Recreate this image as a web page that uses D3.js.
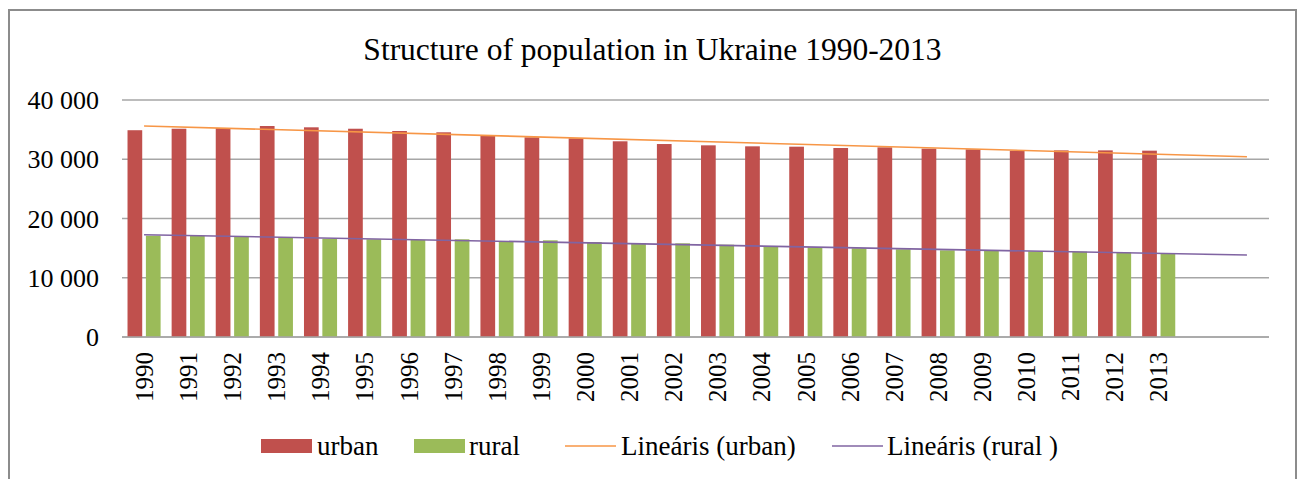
<!DOCTYPE html>
<html><head><meta charset="utf-8">
<script src="https://cdn.jsdelivr.net/npm/d3@7"></script>
<style>
body{margin:0;background:#fff;}
text{font-family:"Times New Roman","Liberation Serif",serif;fill:#000;}
</style></head>
<body><svg id="c" width="1303" height="479"></svg>
<script>
const years = ["1990","1991","1992","1993","1994","1995","1996","1997","1998","1999","2000","2001","2002","2003","2004","2005","2006","2007","2008","2009","2010","2011","2012","2013"];
const urban = [34900,35150,35270,35610,35390,35150,34770,34550,34040,33700,33530,33030,32570,32350,32180,32120,31900,32010,31790,31670,31450,31500,31500,31450];
const rural = [17100,17100,16930,16880,16590,16490,16370,16490,16200,16320,16030,15810,15810,15580,15360,15140,14970,14800,14630,14580,14460,14410,14300,14070];
const yTicks = [0,10000,20000,30000,40000];
const forecastPeriods = 2;
const seriesNames = ["urban","rural"];
const legendLabels = ["urban","rural","Lineáris (urban)","Lineáris (rural )"];
const colors = {urban:"#c0504d", rural:"#9bbb59", trendU:"#f79646", trendR:"#8064a2"};

const svg = d3.select("#c");
const L=122, R=1269, T=100, B=337;

svg.append("rect").attr("x",9).attr("y",10).attr("width",1287).attr("height",480)
  .attr("fill","#fff").attr("stroke","#8c8c8c").attr("stroke-width",2);

svg.append("text").attr("x",652.5).attr("y",60).attr("text-anchor","middle")
  .style("font-size","31.5px").text("Structure of population in Ukraine  1990-2013");

const cats = years.concat(d3.range(forecastPeriods).map(i=>"f"+i));
const x0 = d3.scaleBand().domain(cats).range([L,R]).paddingInner(0.25).paddingOuter(0.125);
const x1 = d3.scaleBand().domain(seriesNames).range([0,x0.bandwidth()]).paddingInner(0.2);
const y = d3.scaleLinear().domain([0,40000]).range([B,T]);

// gridlines
svg.append("g").selectAll("line").data(yTicks).join("line")
  .attr("x1",L).attr("x2",R).attr("y1",d=>y(d)).attr("y2",d=>y(d))
  .attr("stroke","#a6a6a6").attr("stroke-width",1.5);

// y labels
const fmt = d => d3.format(",")(d).replace(/,/g," ");
svg.append("g").selectAll("text").data(yTicks).join("text")
  .attr("x",L-23).attr("y",d=>y(d)).attr("dy","0.35em").attr("text-anchor","end")
  .style("font-size","26px").text(fmt);

// bars
const rows = years.map((yr,i)=>({yr, urban:urban[i], rural:rural[i]}));
const g = svg.append("g");
rows.forEach(r=>{
  seriesNames.forEach(s=>{
    g.append("rect").attr("x",x0(r.yr)+x1(s)).attr("width",x1.bandwidth())
     .attr("y",y(r[s])).attr("height",y(0)-y(r[s])).attr("fill",colors[s]);
  });
});

// trendlines (least squares, extended forward)
function trend(vals){
  const n=vals.length, xs=d3.range(n);
  const mx=d3.mean(xs), my=d3.mean(vals);
  const b=d3.sum(xs,(xv,i)=>(xv-mx)*(vals[i]-my))/d3.sum(xs,xv=>(xv-mx)**2);
  const a=my-b*mx;
  return [0, n-1+forecastPeriods].map(i=>({i, v:a+b*i}));
}
const cx = i => x0(cats[i]) + x0.bandwidth()/2;
[[urban,colors.trendU],[rural,colors.trendR]].forEach(([vals,c])=>{
  svg.append("path").datum(trend(vals))
    .attr("d",d3.line().x(d=>cx(d.i)).y(d=>y(d.v)))
    .attr("stroke",c).attr("stroke-width",1.6).attr("fill","none");
});

// x axis line
svg.append("line").attr("x1",L).attr("x2",R).attr("y1",B).attr("y2",B)
  .attr("stroke","#a6a6a6").attr("stroke-width",1.5);

// x labels
svg.append("g").selectAll("text").data(years).join("text")
  .attr("transform",d=>`translate(${x0(d)+x0.bandwidth()/2},${B+15}) rotate(-90)`)
  .attr("dy","0.35em").attr("text-anchor","end").style("font-size","25px").text(d=>d);

// legend
const lg = svg.append("g");
const ly = 446;
const items = [
  {type:"rect",c:colors.urban,x:261,tx:317,label:legendLabels[0]},
  {type:"rect",c:colors.rural,x:414,tx:469,label:legendLabels[1]},
  {type:"line",c:colors.trendU,x:565,tx:621,label:legendLabels[2]},
  {type:"line",c:colors.trendR,x:832,tx:887,label:legendLabels[3]}
];
items.forEach(it=>{
  if(it.type==="rect") lg.append("rect").attr("x",it.x).attr("y",ly-7).attr("width",51).attr("height",14).attr("fill",it.c);
  else lg.append("line").attr("x1",it.x).attr("x2",it.x+51).attr("y1",ly).attr("y2",ly).attr("stroke",it.c).attr("stroke-width",1.6);
  lg.append("text").attr("x",it.tx).attr("y",ly).attr("dy","0.35em").style("font-size","27px").text(it.label);
});
</script></body></html>
